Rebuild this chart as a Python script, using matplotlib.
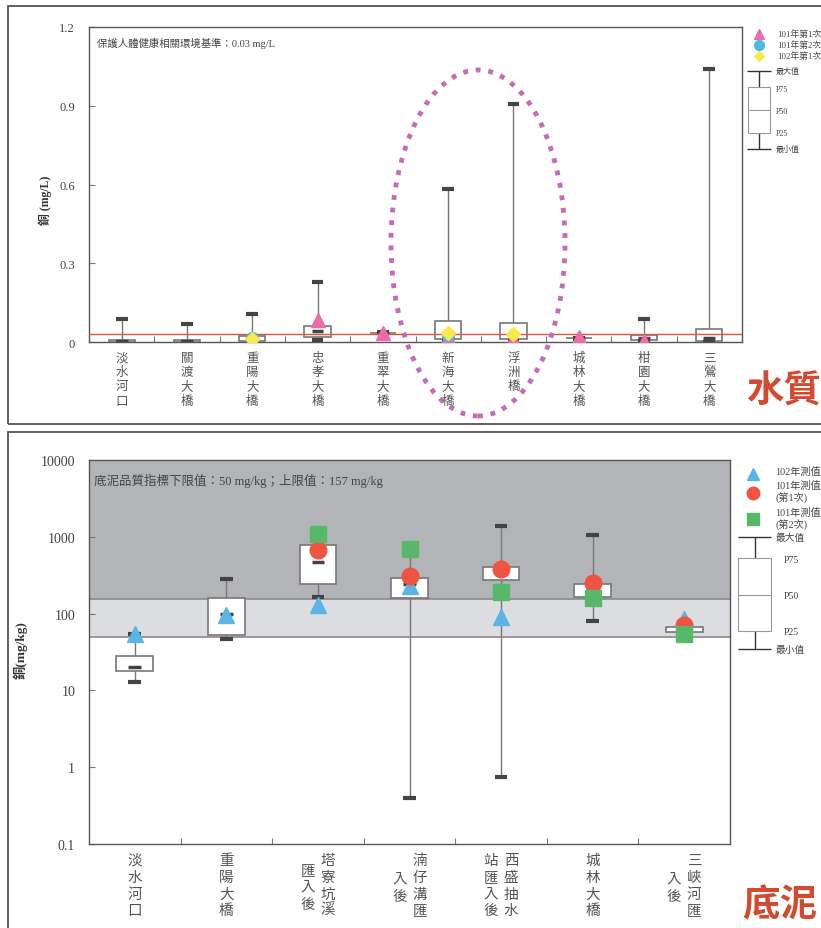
import numpy as np
import matplotlib.pyplot as plt
from matplotlib.patches import Rectangle, Ellipse

plt.rcParams['font.family'] = ['Liberation Serif', 'Noto Sans CJK TC', 'DejaVu Sans']

# ---- water quality (mg/L) ----
wq_sites = ['淡水河口', '關渡大橋', '重陽大橋', '忠孝大橋', '重翠大橋',
            '新海大橋', '浮洲橋', '城林大橋', '柑園大橋', '三鶯大橋']
wq_min = [0.0, 0.0, 0.003, 0.006, 0.033, 0.004, 0.005, 0.013, 0.002, 0.0]
wq_q1 = [0.0, 0.0, 0.003, 0.018, 0.034, 0.012, 0.012, 0.014, 0.008, 0.002]
wq_med = [0.003, 0.002, 0.01, 0.042, 0.035, 0.02, 0.03, 0.015, 0.015, 0.015]
wq_q3 = [0.009, 0.008, 0.022, 0.061, 0.036, 0.08, 0.072, 0.017, 0.025, 0.048]
wq_max = [0.088, 0.069, 0.107, 0.229, 0.038, 0.583, 0.907, 0.017, 0.088, 1.04]
wq_101_1 = [np.nan, np.nan, 0.004, 0.085, 0.036, 0.018, 0.012, 0.02, 0.004, np.nan]
wq_101_2 = [np.nan, np.nan, 0.014, np.nan, np.nan, 0.025, np.nan, np.nan, np.nan, np.nan]
wq_102_1 = [np.nan, np.nan, 0.011, np.nan, np.nan, 0.036, 0.032, np.nan, np.nan, np.nan]
wq_limit = 0.03

# ---- sediment (mg/kg) ----
sed_sites = [('淡水河口', ''), ('重陽大橋', ''), ('塔寮坑溪', '匯入後'),
             ('湳仔溝匯', '入後'), ('西盛抽水', '站匯入後'), ('城林大橋', ''),
             ('三峽河匯', '入後')]
sed_min = [13, 47, 165, 0.4, 0.75, 80, 57]
sed_q1 = [18, 52, 245, 160, 270, 165, 57]
sed_med = [20, 98, 470, 240, 330, 200, 62]
sed_q3 = [28, 160, 780, 290, 400, 240, 67]
sed_max = [55, 280, 1100, 700, 1400, 1050, 67]
sed_102 = [55, 95, 130, 230, 90, 200, 85]
sed_101_1 = [np.nan, np.nan, 680, 310, 380, 250, 72]
sed_101_2 = [np.nan, np.nan, 1100, 700, 190, 160, 55]
sed_low, sed_high = 50, 157

W, H = 821, 929
fig = plt.figure(figsize=(W / 100, H / 100), dpi=100)


def box(l, t, r, b):
    return [l / W, 1 - b / H, (r - l) / W, (b - t) / H]


def draw_boxes(ax, x, mn, q1, med, q3, mx, capw):
    x = np.asarray(x, float)
    ax.vlines(x, q3, mx, color='#777777', lw=1, zorder=2)
    ax.vlines(x, mn, q1, color='#777777', lw=1, zorder=2)
    ax.bar(x, np.subtract(q3, q1), 0.4, bottom=q1, color='white',
           edgecolor='#777777', lw=1.2, zorder=3)
    ax.hlines(mx, x - capw, x + capw, color='#444444', lw=3, zorder=4)
    ax.hlines(mn, x - capw, x + capw, color='#444444', lw=3, zorder=4)
    ax.hlines(med, x - capw, x + capw, color='#444444', lw=2.5, zorder=4)


def style_axes(ax):
    for s in ax.spines.values():
        s.set_color('#555555')
        s.set_linewidth(1)
    ax.tick_params(axis='y', direction='in', length=4, color='#777777',
                   labelsize=9, labelcolor='#444444', pad=10)
    ax.tick_params(axis='x', which='both', direction='in', length=4,
                   color='#777777', labelbottom=False)


# panel frames
fig.add_artist(Rectangle((8 / W, 1 - 425 / H), 1, 418 / H, fill=False,
                         ec='#555555', lw=1.3, transform=fig.transFigure))
fig.add_artist(Rectangle((8 / W, -0.1), 1, 0.1 + 496 / H, fill=False,
                         ec='#555555', lw=1.3, transform=fig.transFigure))

# ================= top chart =================
ax1 = fig.add_axes(box(89, 28, 742, 343))
xw = np.arange(1, len(wq_sites) + 1)
ax1.set_xlim(0.5, len(wq_sites) + 0.5)
ax1.set_ylim(0, 1.2)
ax1.set_yticks([0, 0.3, 0.6, 0.9, 1.2])
ax1.set_yticklabels(['0', '0.3', '0.6', '0.9', '1.2'])
ax1.set_xticks(xw[:-1] + 0.5)
style_axes(ax1)
ax1.axhline(wq_limit, color='#e0553c', lw=1, zorder=5)
draw_boxes(ax1, xw, wq_min, wq_q1, wq_med, wq_q3, wq_max, 0.09)
ax1.plot(xw, wq_101_1, '^', color='#f06aa6', ms=10, ls='none', zorder=6)
ax1.plot(xw, wq_101_2, 'o', color='#4db8e6', ms=8.5, ls='none', zorder=7)
ax1.plot(xw, wq_102_1, 'D', color='#f7e94a', ms=7, ls='none', zorder=8)
ax1.text(8 / 653, 1 - 15 / 315, '保護人體健康相關環境基準：0.03 mg/L',
         transform=ax1.transAxes, fontsize=7.5, color='#444444', va='center')
for i, name in enumerate(wq_sites):
    ax1.text(xw[i], -9 / 315, '\n'.join(name), transform=ax1.get_xaxis_transform(),
             ha='center', va='top', fontsize=9, linespacing=1.12,
             color='#555555', family=['Noto Sans CJK TC'])
fig.text(45 / W, 1 - 200 / H, '銅 (mg/L)', rotation=90, ha='center', va='center',
         fontsize=8.5, fontweight='bold', color='#333333')

# top legend
lg1 = fig.add_axes(box(740, 25, 821, 160))
lg1.set_xlim(740, 821)
lg1.set_ylim(160, 25)
lg1.axis('off')
for yy, mk, c, ms, lab in [(35, '^', '#f06aa6', 7, '101年第1次'),
                           (46, 'o', '#4db8e6', 7, '101年第2次'),
                           (57, 'D', '#f7e94a', 5.5, '102年第1次')]:
    lg1.plot(759, yy, mk, color=c, ms=ms, clip_on=False)
    lg1.text(777, yy, lab, fontsize=6.3, va='center', color='#444444', clip_on=False)
lg1.vlines(759, 72, 150, color='#333333', lw=1)
lg1.hlines([72, 150], 747, 771, color='#333333', lw=1)
lg1.add_patch(Rectangle((748, 88), 22, 46, fc='white', ec='#999999', lw=0.8, zorder=3))
lg1.hlines(111, 748, 770, color='#999999', lw=0.8, zorder=4)
for yy, lab in [(72, '最大值'), (90, 'P75'), (112, 'P50'), (134, 'P25'), (150, '最小值')]:
    lg1.text(776, yy, lab, fontsize=5.8, va='center', color='#444444', clip_on=False)

# dotted highlight ellipse
fig.add_artist(Ellipse((478 / W, 1 - 244 / H), 174 / W, 346 / H, fill=False,
                       ec='#c46db5', lw=3.5, ls=(0, (1, 1.6)),
                       transform=fig.transFigure))

fig.text(746 / W, 1 - 391 / H, '水質', fontsize=27, fontweight='bold',
         color='#d24a30', va='center', ha='left', family=['Noto Sans CJK TC'])

# ================= bottom chart =================
ax2 = fig.add_axes(box(89, 461, 730, 845))
xs = np.arange(1, len(sed_sites) + 1)
ax2.set_xlim(0.5, len(sed_sites) + 0.5)
ax2.set_yscale('log')
ax2.set_ylim(0.1, 10000)
ax2.set_yticks([0.1, 1, 10, 100, 1000, 10000])
ax2.set_yticklabels(['0.1', '1', '10', '100', '1000', '10000'])
ax2.minorticks_off()
ax2.set_xticks(xs[:-1] + 0.5)
style_axes(ax2)
ax2.tick_params(axis='y', labelsize=10)
ax2.axhspan(sed_high, 10000, color='#b3b4b8', lw=0, zorder=0)
ax2.axhspan(sed_low, sed_high, color='#dcdde0', lw=0, zorder=0)
ax2.axhline(sed_high, color='#8a8a8a', lw=1.2, zorder=1)
ax2.axhline(sed_low, color='#8a8a8a', lw=1.2, zorder=1)
draw_boxes(ax2, xs, sed_min, sed_q1, sed_med, sed_q3, sed_max, 0.07)
ax2.plot(xs, sed_102, '^', color='#5ab4e5', ms=12, ls='none', zorder=6)
ax2.plot(xs, sed_101_1, 'o', color='#f05340', ms=12, ls='none', zorder=7)
ax2.plot(xs, sed_101_2, 's', color='#58b86a', ms=11, ls='none', zorder=8)
ax2.text(5 / 641, 1 - 20 / 384, '底泥品質指標下限值：50 mg/kg；上限值：157 mg/kg',
         transform=ax2.transAxes, fontsize=9, color='#444444', va='center')
for i, (col_r, col_l) in enumerate(sed_sites):
    tr = ax2.get_xaxis_transform()
    kw = dict(transform=tr, ha='center', va='top', fontsize=10.5, linespacing=1.25,
              color='#555555', family=['Noto Sans CJK TC'])
    if not col_l:
        ax2.text(xs[i], -9 / 384, '\n'.join(col_r), **kw)
    else:
        shift = {'匯入後': 10, '入後': 19, '站匯入後': 0}[col_l]
        ax2.text(xs[i] + 0.11, -9 / 384, '\n'.join(col_r), **kw)
        ax2.text(xs[i] - 0.11, -(9 + shift) / 384, '\n'.join(col_l), **kw)
fig.text(20 / W, 1 - 650 / H, '銅(mg/kg)', rotation=90, ha='center', va='center',
         fontsize=9.5, fontweight='bold', color='#333333')

# bottom legend
lg2 = fig.add_axes(box(735, 460, 821, 660))
lg2.set_xlim(735, 821)
lg2.set_ylim(660, 460)
lg2.axis('off')
lg2.plot(753, 475, '^', color='#5ab4e5', ms=9, clip_on=False)
lg2.plot(753, 494, 'o', color='#f05340', ms=9, clip_on=False)
lg2.plot(753, 520, 's', color='#58b86a', ms=8, clip_on=False)
for yy, lab in [(472, '102年測值'), (486, '101年測值'), (498, '(第1次)'),
                (513, '101年測值'), (525, '(第2次)')]:
    lg2.text(775, yy, lab, fontsize=7.3, va='center', color='#444444', clip_on=False)
lg2.vlines(755, 538, 650, color='#333333', lw=1)
lg2.hlines([538, 650], 738, 771, color='#333333', lw=1)
lg2.add_patch(Rectangle((738, 559), 33, 73, fc='white', ec='#999999', lw=0.8, zorder=3))
lg2.hlines(596, 738, 771, color='#999999', lw=0.8, zorder=4)
for xx, yy, lab in [(776, 538, '最大值'), (784, 561, 'P75'), (784, 597, 'P50'),
                    (784, 633, 'P25'), (776, 650, '最小值')]:
    lg2.text(xx, yy, lab, fontsize=7, va='center', color='#444444', clip_on=False)

fig.text(742 / W, 1 - 905 / H, '底泥', fontsize=27, fontweight='bold',
         color='#d24a30', va='center', ha='left', family=['Noto Sans CJK TC'])

fig.savefig('out.png', dpi=100)
